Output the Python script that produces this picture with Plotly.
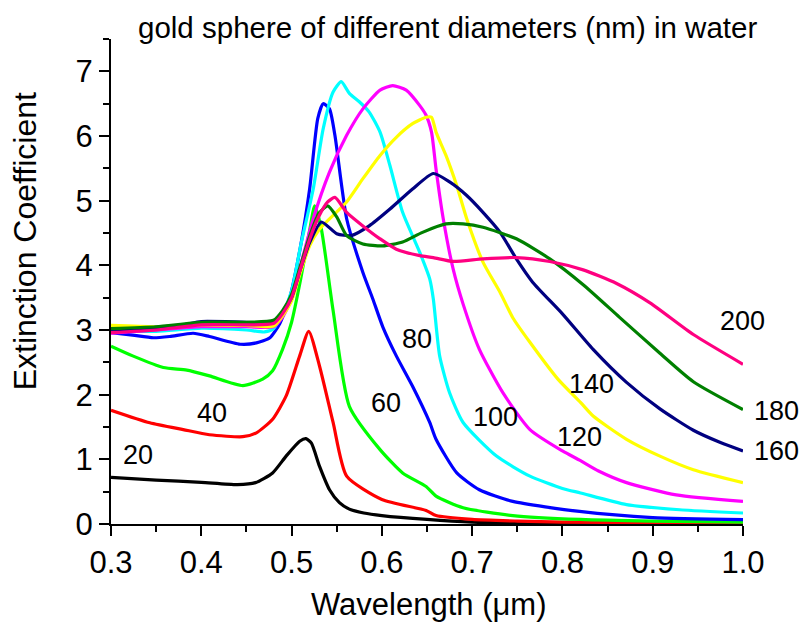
import plotly.graph_objects as go

# ---- data (wavelength in µm, extinction coefficient) ----
x20 = [0.30, 0.35, 0.40, 0.44, 0.46, 0.479, 0.494, 0.509, 0.516, 0.522, 0.531, 0.542, 0.553, 0.564, 0.58, 0.60, 0.65, 0.70, 0.80, 0.90, 1.00]
y20 = [0.72, 0.68, 0.645, 0.61, 0.64, 0.79, 1.05, 1.28, 1.32, 1.25, 0.89, 0.53, 0.33, 0.23, 0.17, 0.13, 0.07, 0.03, 0.012, 0.007, 0.005]

x40 = [0.30, 0.343, 0.38, 0.409, 0.446, 0.461, 0.479, 0.494, 0.509, 0.519, 0.531, 0.546, 0.561, 0.60, 0.649, 0.66, 0.70, 0.75, 0.80, 0.90, 1.00]
y40 = [1.76, 1.566, 1.46, 1.38, 1.35, 1.41, 1.62, 1.98, 2.60, 2.98, 2.44, 1.57, 0.74, 0.38, 0.21, 0.13, 0.07, 0.045, 0.03, 0.02, 0.015]

x60 = [0.30, 0.324, 0.358, 0.384, 0.409, 0.446, 0.468, 0.479, 0.49, 0.50, 0.51, 0.52, 0.5256, 0.533, 0.546, 0.564, 0.598, 0.623, 0.649, 0.66, 0.69, 0.745, 0.82, 0.90, 1.00]
y60 = [2.75, 2.60, 2.42, 2.38, 2.29, 2.14, 2.24, 2.37, 2.70, 3.12, 3.78, 4.54, 4.92, 4.56, 3.30, 1.82, 1.15, 0.79, 0.58, 0.43, 0.25, 0.13, 0.07, 0.045, 0.03]

x80 = [0.30, 0.324, 0.347, 0.365, 0.391, 0.409, 0.443, 0.461, 0.476, 0.487, 0.498, 0.51, 0.52, 0.529, 0.535, 0.542, 0.548, 0.561, 0.579, 0.59, 0.601, 0.616, 0.634, 0.653, 0.66, 0.683, 0.708, 0.745, 0.819, 0.90, 1.00]
y80 = [2.96, 2.92, 2.88, 2.90, 2.95, 2.90, 2.78, 2.80, 2.88, 3.10, 3.50, 4.30, 5.18, 6.27, 6.50, 6.42, 6.01, 4.72, 3.89, 3.48, 3.05, 2.60, 2.13, 1.57, 1.31, 0.79, 0.53, 0.35, 0.195, 0.10, 0.067]

x100 = [0.30, 0.35, 0.40, 0.45, 0.47, 0.48, 0.49, 0.50, 0.51, 0.524, 0.535, 0.546, 0.555, 0.564, 0.575, 0.586, 0.598, 0.609, 0.623, 0.642, 0.653, 0.657, 0.664, 0.675, 0.69, 0.727, 0.764, 0.80, 0.82, 0.871, 0.93, 1.00]
y100 = [2.98, 2.98, 3.03, 3.00, 2.97, 3.02, 3.25, 3.60, 4.30, 5.18, 6.11, 6.68, 6.84, 6.66, 6.53, 6.37, 6.06, 5.54, 4.82, 4.20, 3.79, 3.48, 2.60, 2.03, 1.57, 1.05, 0.74, 0.55, 0.48, 0.30, 0.22, 0.17]

x120 = [0.30, 0.35, 0.40, 0.45, 0.48, 0.49, 0.50, 0.51, 0.524, 0.542, 0.561, 0.579, 0.598, 0.612, 0.627, 0.642, 0.649, 0.655, 0.66, 0.668, 0.679, 0.69, 0.708, 0.734, 0.764, 0.80, 0.82, 0.84, 0.871, 0.926, 1.00]
y120 = [2.95, 3.00, 3.05, 3.05, 3.05, 3.20, 3.50, 4.00, 4.72, 5.44, 6.01, 6.42, 6.71, 6.78, 6.71, 6.47, 6.32, 6.06, 5.49, 4.72, 3.94, 3.40, 2.70, 2.03, 1.46, 1.13, 0.98, 0.82, 0.64, 0.45, 0.35]

x140 = [0.30, 0.35, 0.40, 0.45, 0.48, 0.49, 0.50, 0.51, 0.52, 0.531, 0.561, 0.579, 0.598, 0.616, 0.634, 0.649, 0.655, 0.66, 0.671, 0.683, 0.694, 0.712, 0.731, 0.745, 0.764, 0.795, 0.82, 0.834, 0.871, 0.908, 0.945, 1.00]
y140 = [3.07, 3.05, 3.08, 3.07, 3.06, 3.22, 3.45, 3.90, 4.30, 4.56, 4.98, 5.34, 5.70, 5.98, 6.19, 6.29, 6.29, 6.06, 5.70, 5.23, 4.72, 4.05, 3.58, 3.19, 2.81, 2.24, 1.88, 1.67, 1.31, 1.05, 0.84, 0.64]

x160 = [0.30, 0.35, 0.38, 0.40, 0.45, 0.48, 0.49, 0.50, 0.51, 0.52, 0.533, 0.55, 0.566, 0.586, 0.609, 0.634, 0.657, 0.675, 0.694, 0.712, 0.731, 0.749, 0.767, 0.80, 0.834, 0.871, 0.908, 0.945, 0.975, 1.00]
y160 = [3.00, 3.04, 3.08, 3.13, 3.12, 3.12, 3.27, 3.50, 3.95, 4.35, 4.67, 4.49, 4.46, 4.61, 4.87, 5.18, 5.42, 5.29, 5.08, 4.82, 4.51, 4.10, 3.74, 3.25, 2.70, 2.19, 1.78, 1.45, 1.26, 1.13]

x180 = [0.30, 0.35, 0.40, 0.45, 0.48, 0.49, 0.50, 0.51, 0.52, 0.53, 0.54, 0.55, 0.561, 0.579, 0.601, 0.623, 0.645, 0.671, 0.69, 0.712, 0.749, 0.786, 0.823, 0.863, 0.908, 0.945, 1.00]
y180 = [3.02, 3.05, 3.12, 3.12, 3.15, 3.30, 3.55, 4.00, 4.45, 4.80, 4.92, 4.75, 4.46, 4.33, 4.30, 4.36, 4.51, 4.64, 4.64, 4.59, 4.41, 4.10, 3.70, 3.20, 2.64, 2.20, 1.77]

x200 = [0.30, 0.35, 0.40, 0.45, 0.48, 0.49, 0.50, 0.51, 0.52, 0.53, 0.54, 0.548, 0.561, 0.579, 0.598, 0.616, 0.642, 0.657, 0.679, 0.712, 0.749, 0.786, 0.823, 0.86, 0.897, 0.945, 1.00]
y200 = [2.96, 3.00, 3.08, 3.08, 3.10, 3.25, 3.50, 3.95, 4.40, 4.75, 4.98, 5.05, 4.82, 4.61, 4.41, 4.25, 4.15, 4.12, 4.06, 4.10, 4.12, 4.06, 3.93, 3.72, 3.42, 2.93, 2.47]

diameters = ["20", "40", "60", "80", "100", "120", "140", "160", "180", "200"]
colors = ["#000000", "#FF0000", "#00FF00", "#0000FF", "#00FFFF", "#FF00FF", "#FFFF00", "#000080", "#008000", "#FF0080"]
xs = [x20, x40, x60, x80, x100, x120, x140, x160, x180, x200]
ys = [y20, y40, y60, y80, y100, y120, y140, y160, y180, y200]

# label positions (paper fractions of the plot area)
label_px = [0.042, 0.1594, 0.4346, 0.4838, 0.6085, 0.7414, 0.7601, 1.053, 1.053, 0.9985]
label_py = [0.1413, 0.2293, 0.2487, 0.382, 0.22, 0.1793, 0.288, 0.150, 0.2327, 0.4187]

title_text = "gold sphere of different diameters (nm) in water"
x_title = "Wavelength (\u03bcm)"
y_title = "Extinction Coefficient"

FONT = "Arial, Liberation Sans, sans-serif"

fig = go.Figure()
for d, c, x, y in zip(diameters, colors, xs, ys):
    fig.add_trace(go.Scatter(x=x, y=y, mode="lines", name=d,
                             line=dict(color=c, width=3.2, shape="spline", smoothing=0.6),
                             hoverinfo="skip"))

annotations = []
for d, lx, ly in zip(diameters, label_px, label_py):
    annotations.append(dict(x=lx, y=ly, xref="paper", yref="paper", text=d, showarrow=False,
                            font=dict(family=FONT, size=27, color="black"),
                            xanchor="center", yanchor="middle"))
annotations.append(dict(x=0.533, y=1.0227, xref="paper", yref="paper", text=title_text,
                        showarrow=False, font=dict(family=FONT, size=29.5, color="black"),
                        xanchor="center", yanchor="middle"))
annotations.append(dict(x=0.503, y=-0.165, xref="paper", yref="paper", text=x_title,
                        showarrow=False, font=dict(family=FONT, size=31, color="black"),
                        xanchor="center", yanchor="middle"))
annotations.append(dict(x=-0.136, y=0.583, xref="paper", yref="paper", text=y_title,
                        showarrow=False, textangle=-90,
                        font=dict(family=FONT, size=32, color="black"),
                        xanchor="center", yanchor="middle"))

axis_common = dict(showline=True, linecolor="black", linewidth=2, showgrid=False,
                   zeroline=False, ticks="outside", ticklen=10, tickwidth=2,
                   tickcolor="black", mirror=False,
                   tickfont=dict(family=FONT, size=31, color="black"))

fig.update_layout(
    width=802, height=625,
    margin=dict(l=111, r=59, t=39, b=101),
    paper_bgcolor="white", plot_bgcolor="white",
    showlegend=False,
    annotations=annotations,
    xaxis=dict(range=[0.3, 1.0], dtick=0.1, tick0=0.3, tickformat=".1f",
               minor=dict(ticks="outside", ticklen=6, tickwidth=2, tickcolor="black", dtick=0.05, showgrid=False),
               **axis_common),
    yaxis=dict(range=[0, 7.5], dtick=1, tick0=0,
               minor=dict(ticks="outside", ticklen=6, tickwidth=2, tickcolor="black", dtick=0.5, showgrid=False),
               **axis_common),
)

fig.write_html("out.html")
